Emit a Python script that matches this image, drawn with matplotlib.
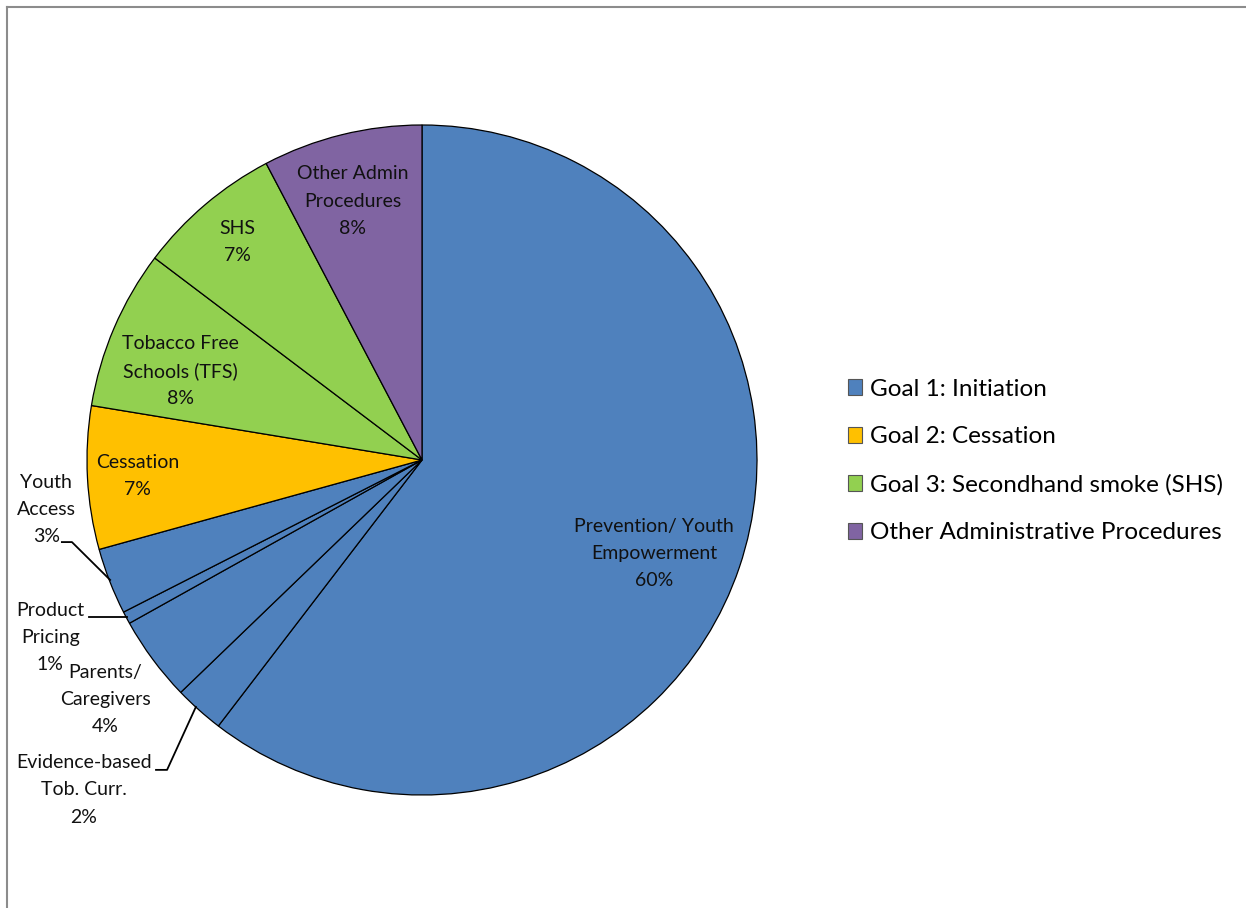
import matplotlib
matplotlib.use("Agg")
import matplotlib.pyplot as plt
from matplotlib.patches import Patch
from matplotlib.lines import Line2D

# program budget shares, clockwise from 12 o'clock
categories = ["Prevention/ Youth\nEmpowerment", "Evidence-based\nTob. Curr.",
              "Parents/\nCaregivers", "Product\nPricing", "Youth\nAccess",
              "Cessation", "Tobacco Free\nSchools (TFS)", "SHS",
              "Other Admin\nProcedures"]
shares = [60.4, 2.4, 4.1, 0.6, 3.2, 6.9, 7.7, 7.0, 7.7]
goal = [0, 0, 0, 0, 0, 1, 2, 2, 3]

goal_names = ["Goal 1: Initiation", "Goal 2: Cessation",
              "Goal 3: Secondhand smoke (SHS)", "Other Administrative Procedures"]
goal_colors = ["#4F81BD", "#FFC000", "#92D050", "#8064A2"]

# where each label sits (pie radius = 1)
label_xy = [(0.693, -0.278), (-1.009, -0.985), (-0.946, -0.716),
            (-1.110, -0.531), (-1.122, -0.149), (-0.848, -0.048),
            (-0.722, 0.266), (-0.552, 0.651), (-0.206, 0.773)]

# leader lines for the small outside labels
leaders = [
    [(-1.075, -0.245), (-1.045, -0.245), (-0.931, -0.358)],
    [(-0.994, -0.469), (-0.881, -0.469)],
    [(-0.794, -0.925), (-0.761, -0.925), (-0.675, -0.737)],
]

plt.rcParams['font.family'] = ['Lato', 'DejaVu Sans']

W, H = 1246, 908
fig = plt.figure(figsize=(W / 100, H / 100), dpi=100)

cx, cy, r = 422, 460, 335
ax = fig.add_axes([(cx - r) / W, (H - cy - r) / H, 2 * r / W, 2 * r / H])
ax.pie(shares, colors=[goal_colors[g] for g in goal], startangle=90,
       counterclock=False, radius=1,
       wedgeprops=dict(edgecolor="black", linewidth=0.9))
ax.set_xlim(-1, 1)
ax.set_ylim(-1, 1)
ax.set_aspect("equal")
ax.axis("off")

for name, val, (x, y) in zip(categories, shares, label_xy):
    ax.text(x, y, f"{name}\n{val:.0f}%", ha="center", va="center",
            fontsize=14, linespacing=1.72, color="#111111")

for pts in leaders:
    xs, ys = zip(*pts)
    ax.plot(xs, ys, color="black", lw=1.3, clip_on=False)

handles = [Patch(facecolor=c, edgecolor="#555555", lw=0.8) for c in goal_colors]
fig.legend(handles, goal_names, loc="center left",
           bbox_to_anchor=(826 / W, (H - 461) / H), frameon=False,
           fontsize=17.5, handlelength=0.6, handleheight=0.6,
           handletextpad=0.33, labelspacing=1.1)

# outer chart-area frame (top and left edges)
fig.add_artist(Line2D([7 / W, 1], [1 - 7 / H, 1 - 7 / H], color="#8c8c8c", lw=1.5))
fig.add_artist(Line2D([7 / W, 7 / W], [0, 1 - 7 / H], color="#8c8c8c", lw=1.5))

fig.savefig("out.png", dpi=100, facecolor="white")
